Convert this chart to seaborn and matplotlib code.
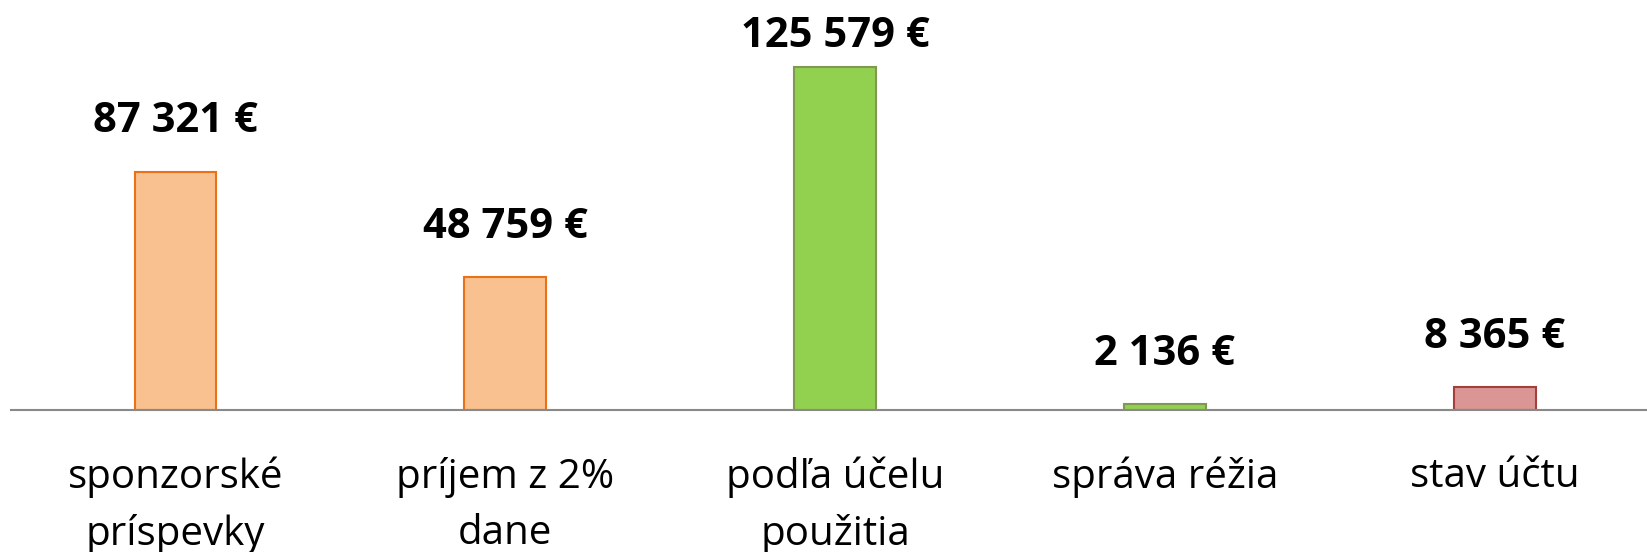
import matplotlib
matplotlib.use("Agg")
import matplotlib.pyplot as plt
import pandas as pd
import seaborn as sns

categories = ["sponzorské\npríspevky", "príjem z 2%\ndane", "podľa účelu\npoužitia",
              "správa réžia", "stav účtu"]
values = [87321, 48759, 125579, 2136, 8365]
value_labels = ["87 321 €", "48 759 €", "125 579 €", "2 136 €", "8 365 €"]
fill_colors = ["#F9C18F", "#F9C18F", "#92D050", "#92D050", "#D99694"]
edge_colors = ["#E8711A", "#E8711A", "#7F9A50", "#7F9A50", "#A43F3E"]

sns.set_style("white")
plt.rcParams['font.family'] = ['Open Sans', 'DejaVu Sans']

df = pd.DataFrame({"cat": categories, "val": values})

fig = plt.figure(figsize=(16.47, 5.52), dpi=100)
ax = fig.add_axes([10.5 / 1647, 1 - 409.7 / 552, 1 - 10.5 / 1647, 409.7 / 552])

sns.barplot(data=df, x="cat", y="val", hue="cat", palette=fill_colors,
            width=0.248, legend=False, ax=ax, saturation=1)

for patch, ec in zip(ax.patches, edge_colors):
    patch.set_edgecolor(ec)
    patch.set_linewidth(1.5)

# the tallest label sits closer to its bar so it stays inside the chart
for i, (v, lab) in enumerate(zip(values, value_labels)):
    off = 7 if v == max(values) else 21
    ax.annotate(lab, (i, v), xytext=(0, off), textcoords="offset points",
                ha="center", va="bottom", fontsize=30, fontweight="bold", color="black")

ax.set_xlim(-0.5, 4.462)
ax.set_ylim(0, 150220)
ax.set_xlabel("")
ax.set_ylabel("")
ax.set_yticks([])
for s in ["top", "right", "left"]:
    ax.spines[s].set_visible(False)
ax.spines["bottom"].set_color("#898989")
ax.spines["bottom"].set_linewidth(1.5)
ax.tick_params(axis="x", length=0, pad=34, labelsize=29, labelcolor="black")
for t in ax.get_xticklabels():
    t.set_linespacing(1.5)

fig.savefig("out.png", dpi=100)
